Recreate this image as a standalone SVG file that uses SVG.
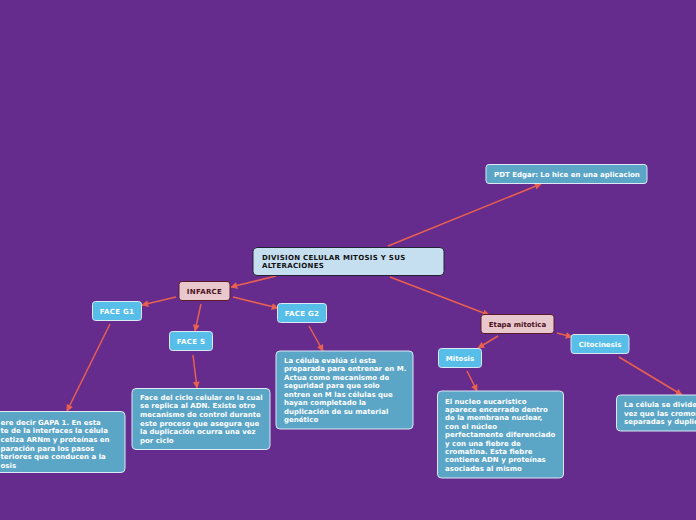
<svg xmlns="http://www.w3.org/2000/svg" width="696" height="520" viewBox="0 0 696 520">
<defs>
<marker id="ah" viewBox="0 0 10 10" refX="9" refY="5" markerWidth="7" markerHeight="7" markerUnits="userSpaceOnUse" orient="auto">
<path d="M0,0 L10,5 L0,10 z" fill="#e8604f"/>
</marker>
<style>
text{font-family:"DejaVu Sans","Verdana",sans-serif;font-weight:bold;font-size:7px}
.caps{letter-spacing:0.3px}
.root rect{fill:#c5dff0;stroke:#222233;stroke-width:1}
.root text{fill:#111}
.pink rect{fill:#e8c8cc;stroke:#5a1a2a;stroke-width:1}
.pink text{fill:#4a1020}
.lb rect{fill:#57bde9;stroke:#dbe9f5;stroke-width:1}
.lb text{fill:#fff}
.desc rect{fill:#5ba5c7;stroke:#dbe9f5;stroke-width:1}
.desc text{fill:#fff}
.c line{stroke:#e8604f;stroke-width:1.5;marker-end:url(#ah)}
</style>
</defs>
<rect width="696" height="520" fill="#652c8d"/>
<g class="c" id="connectors">
<line x1="388" y1="246" x2="541" y2="184"/>
<line x1="276" y1="276" x2="231" y2="287"/>
<line x1="176" y1="297" x2="142" y2="305"/>
<line x1="201" y1="304" x2="195" y2="331"/>
<line x1="233" y1="297" x2="278" y2="308"/>
<line x1="110" y1="324" x2="67" y2="411"/>
<line x1="193" y1="355" x2="197" y2="388"/>
<line x1="309" y1="326" x2="323" y2="351"/>
<line x1="390" y1="277" x2="489" y2="315"/>
<line x1="498" y1="336" x2="478" y2="348"/>
<line x1="557" y1="333" x2="572" y2="337"/>
<line x1="467" y1="371" x2="477" y2="391"/>
<line x1="619" y1="357" x2="682" y2="395"/>
</g>
<g id="root" class="root"><rect x="253" y="247.5" width="191" height="28" rx="4"/><text class="caps" x="262" y="260">DIVISION CELULAR MITOSIS Y SUS</text><text class="caps" x="262" y="268">ALTERACIONES</text></g>
<g id="pdt" class="desc"><rect x="486" y="164.5" width="161" height="19" rx="3"/><text x="494" y="176.5">PDT Edgar: Lo hice en una aplicacion</text></g>
<g id="infarce" class="pink"><rect x="179" y="281.5" width="51" height="19" rx="3"/><text class="caps" x="204.5" y="293.5" text-anchor="middle">INFARCE</text></g>
<g id="g1" class="lb"><rect x="92.5" y="301.5" width="49" height="19" rx="3"/><text class="caps" x="117" y="313.5" text-anchor="middle">FACE G1</text></g>
<g id="s" class="lb"><rect x="169.5" y="331.5" width="43" height="19" rx="3"/><text class="caps" x="191" y="343.5" text-anchor="middle">FACE S</text></g>
<g id="g2" class="lb"><rect x="277.5" y="303.5" width="49" height="19" rx="3"/><text class="caps" x="302" y="315.5" text-anchor="middle">FACE G2</text></g>
<g id="etapa" class="pink"><rect x="481" y="314.5" width="73" height="19" rx="3"/><text x="517.5" y="326.5" text-anchor="middle">Etapa mitotica</text></g>
<g id="mitosis" class="lb"><rect x="438.5" y="348.5" width="43" height="19" rx="3"/><text x="460" y="360.5" text-anchor="middle">Mitosis</text></g>
<g id="citocinesis" class="lb"><rect x="571" y="334.5" width="58" height="19" rx="3"/><text x="600" y="346.5" text-anchor="middle">Citocinesis</text></g>
<g id="g1desc" class="desc"><rect x="-6" y="411.5" width="131" height="61" rx="4"/>
<text x="0.5" y="424.5">ere decir GAPA 1. En esta</text>
<text x="0.5" y="433.2">te de la interfaces la célula</text>
<text x="0.5" y="441.9">cetiza ARNm y proteínas en</text>
<text x="0.5" y="450.6">paración para los pasos</text>
<text x="0.5" y="459.3">teriores que conducen a la</text>
<text x="0.5" y="468">osis</text></g>
<g id="sdesc" class="desc"><rect x="132" y="388.5" width="138" height="61" rx="4"/>
<text x="140" y="399.5">Face del ciclo celular en la cual</text>
<text x="140" y="408.2">se replica al ADN. Existe otro</text>
<text x="140" y="416.9">mecanismo de control durante</text>
<text x="140" y="425.6">este proceso que asegura que</text>
<text x="140" y="434.3">la duplicación ocurra una vez</text>
<text x="140" y="443">por ciclo</text></g>
<g id="g2desc" class="desc"><rect x="276" y="351" width="137" height="78" rx="4"/>
<text x="284" y="362.5">La célula evalúa si esta</text>
<text x="284" y="371">preparada para entrenar en M.</text>
<text x="284" y="379.5">Actua como mecanismo de</text>
<text x="284" y="388">seguridad para que solo</text>
<text x="284" y="396.5">entren en M las células que</text>
<text x="284" y="405">hayan completado la</text>
<text x="284" y="413.5">duplicación  de su material</text>
<text x="284" y="422">genético</text></g>
<g id="mitdesc" class="desc"><rect x="437.5" y="391" width="126" height="87" rx="4"/>
<text x="445" y="403.5">El nucleo eucaristico</text>
<text x="445" y="411.9">aparece encerrado dentro</text>
<text x="445" y="420.3">de la membrana nuclear,</text>
<text x="445" y="428.7">con el núcleo</text>
<text x="445" y="437.1">perfectamente diferenciado</text>
<text x="445" y="445.5">y con una fiebre de</text>
<text x="445" y="453.9">cromatina. Esta fiebre</text>
<text x="445" y="462.3">contiene ADN y proteínas</text>
<text x="445" y="470.7">asociadas al mismo</text></g>
<g id="citodesc" class="desc"><rect x="616.5" y="395" width="100" height="36" rx="4"/>
<text x="624" y="407">La célula se divide</text>
<text x="624" y="415.5">vez que las cromos</text>
<text x="624" y="424">separadas y duplic</text></g>
</svg>
